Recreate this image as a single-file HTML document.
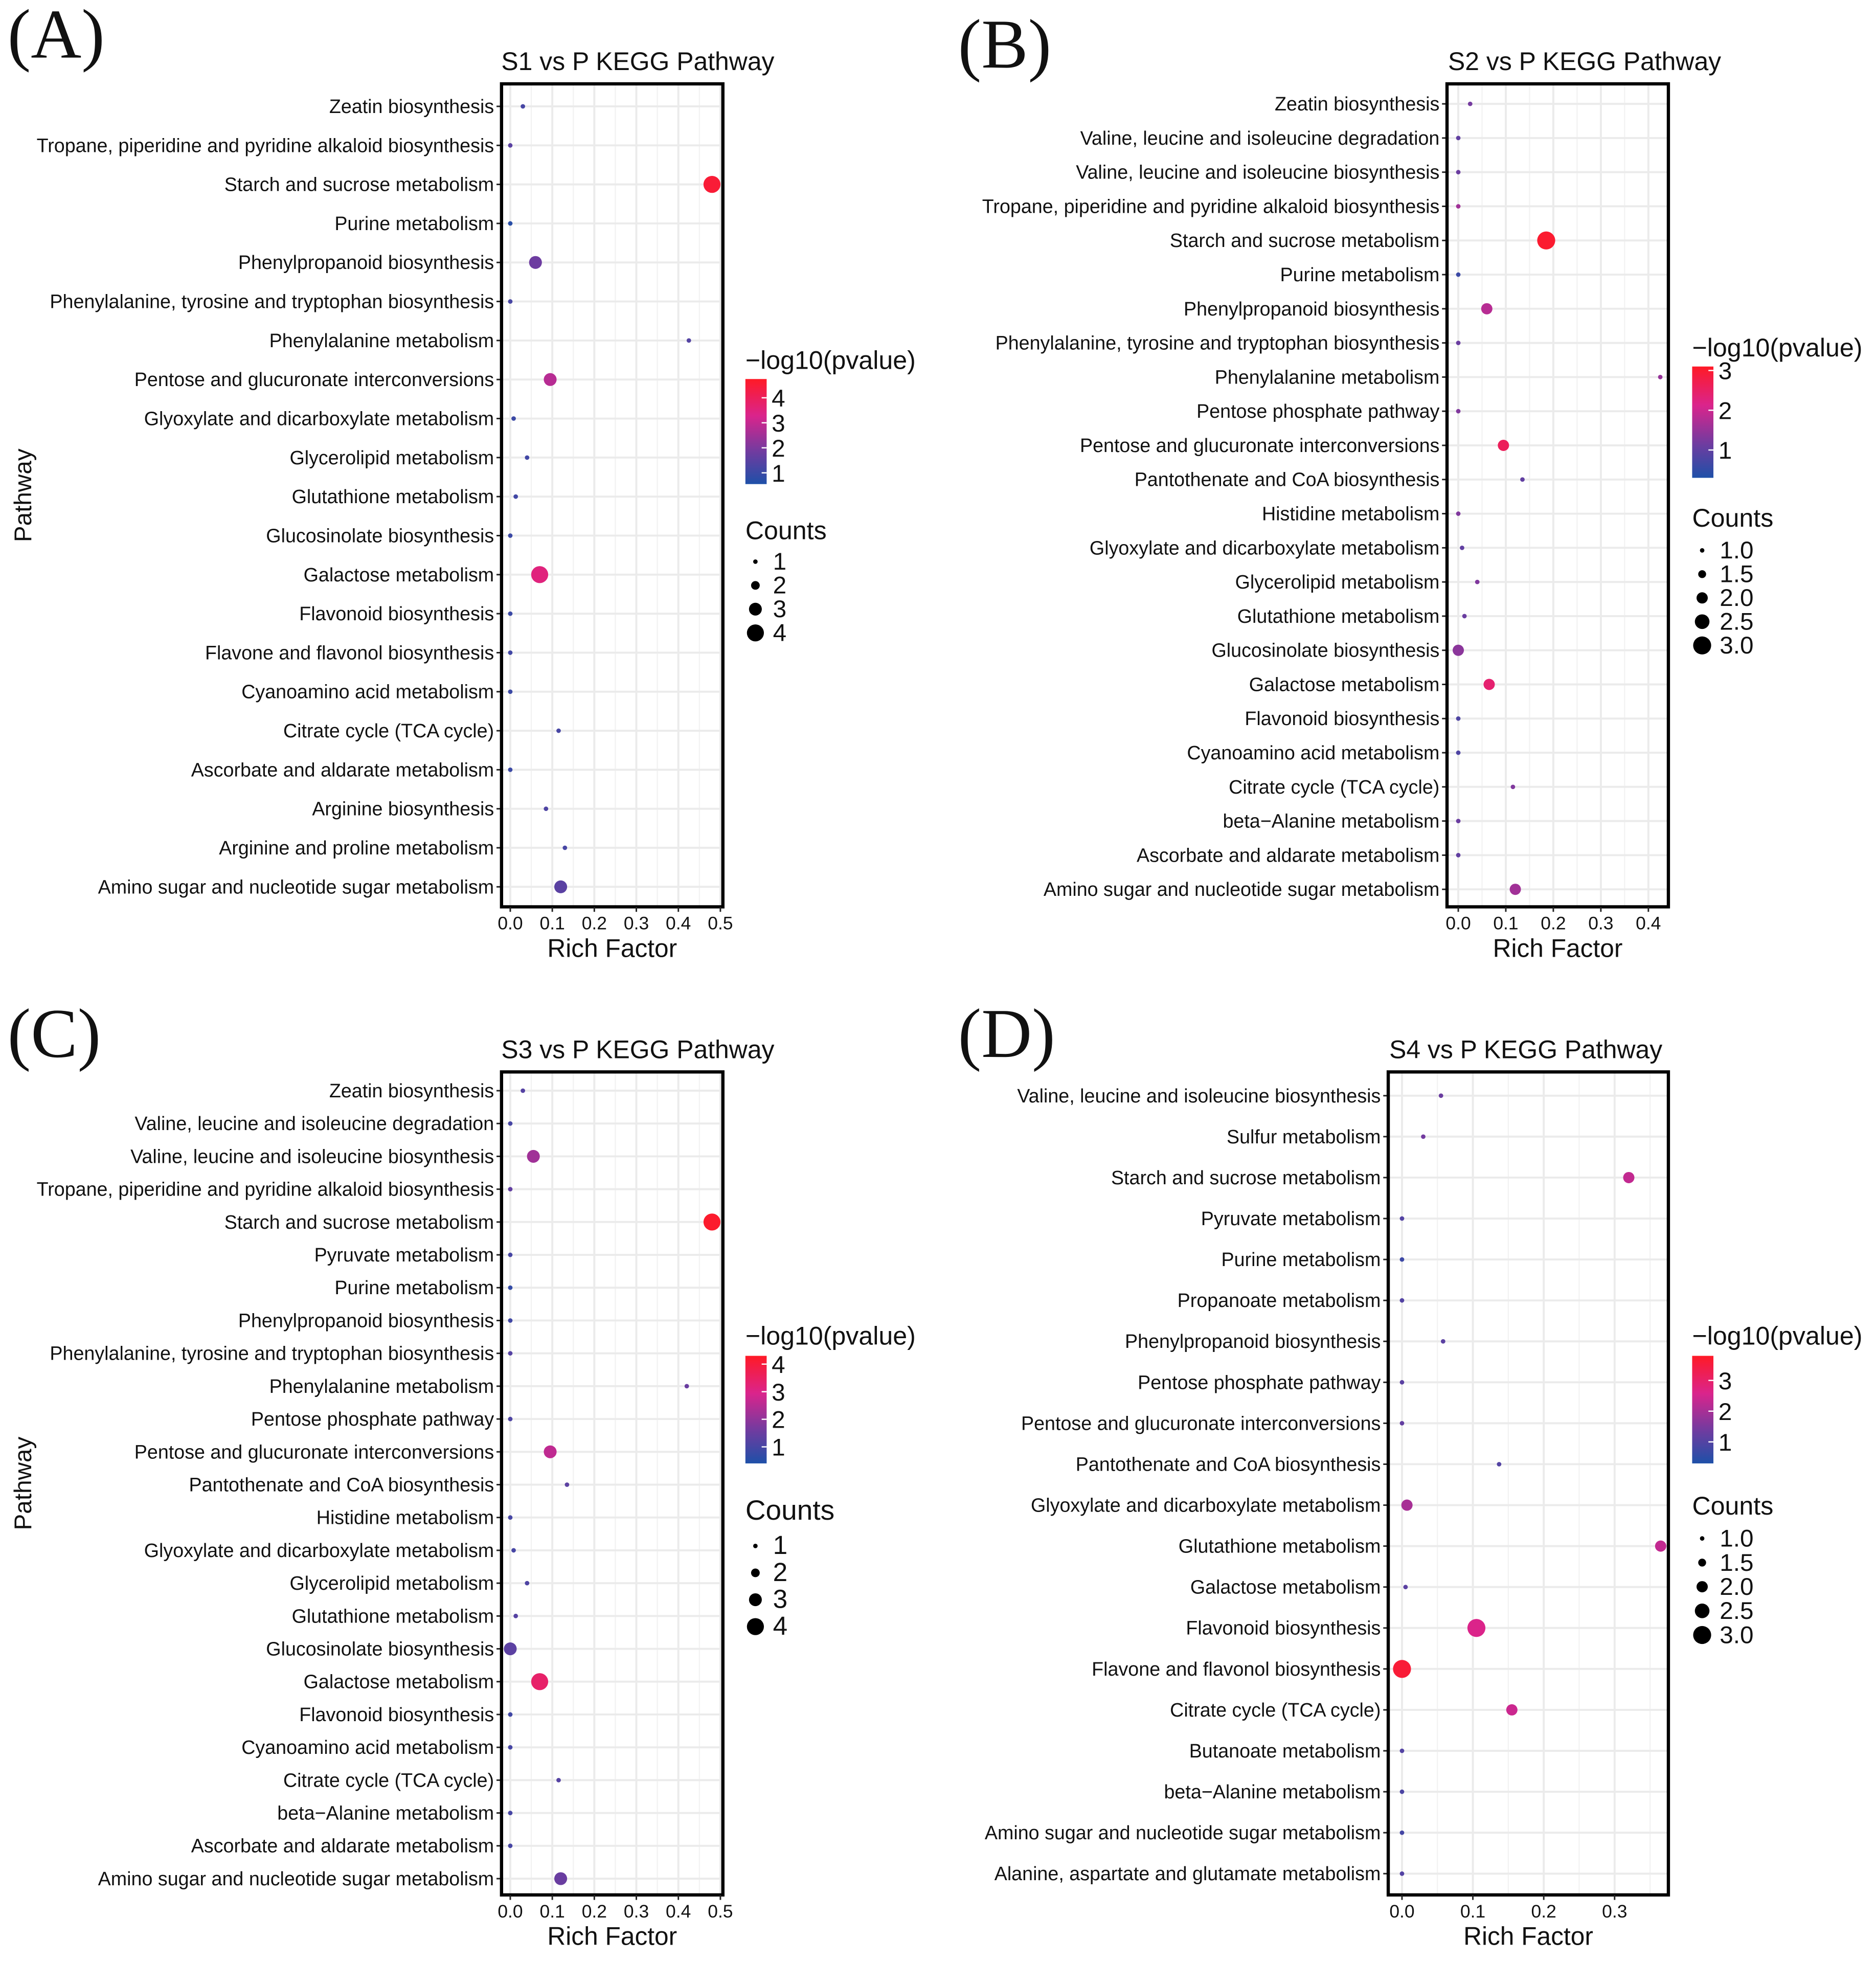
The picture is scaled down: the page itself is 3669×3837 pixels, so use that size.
<!DOCTYPE html>
<html><head><meta charset="utf-8"><style>
html,body{margin:0;padding:0;background:#fff}
svg{display:block}
text{font-family:"Liberation Sans",sans-serif;fill:#111}
</style></head><body>
<svg id="fig" width="3669" height="3837" viewBox="0 0 1500 1568.6" xmlns="http://www.w3.org/2000/svg">
<rect width="1500" height="1569" fill="#fff"/>
</svg>
<script>
// ---------- DATA ----------
const catsA = ["Zeatin biosynthesis","Tropane, piperidine and pyridine alkaloid biosynthesis","Starch and sucrose metabolism","Purine metabolism","Phenylpropanoid biosynthesis","Phenylalanine, tyrosine and tryptophan biosynthesis","Phenylalanine metabolism","Pentose and glucuronate interconversions","Glyoxylate and dicarboxylate metabolism","Glycerolipid metabolism","Glutathione metabolism","Glucosinolate biosynthesis","Galactose metabolism","Flavonoid biosynthesis","Flavone and flavonol biosynthesis","Cyanoamino acid metabolism","Citrate cycle (TCA cycle)","Ascorbate and aldarate metabolism","Arginine biosynthesis","Arginine and proline metabolism","Amino sugar and nucleotide sugar metabolism"];
const richA = [0.03,0.0,0.48,0.0,0.06,0.0,0.425,0.095,0.008,0.04,0.013,0.0,0.07,0.0,0.0,0.0,0.115,0.0,0.085,0.13,0.12];
const countA = [1,1,4,1,3,1,1,3,1,1,1,1,4,1,1,1,1,1,1,1,3];
const pvalA = [1.2,1.5,4.5,0.7,1.8,1.2,1.4,2.8,1.0,1.1,1.1,1.0,3.5,1.0,1.1,1.0,1.2,1.0,1.3,1.2,1.5];
const ticksA = [0,0.1,0.2,0.3,0.4,0.5];

const catsB = ["Zeatin biosynthesis","Valine, leucine and isoleucine degradation","Valine, leucine and isoleucine biosynthesis","Tropane, piperidine and pyridine alkaloid biosynthesis","Starch and sucrose metabolism","Purine metabolism","Phenylpropanoid biosynthesis","Phenylalanine, tyrosine and tryptophan biosynthesis","Phenylalanine metabolism","Pentose phosphate pathway","Pentose and glucuronate interconversions","Pantothenate and CoA biosynthesis","Histidine metabolism","Glyoxylate and dicarboxylate metabolism","Glycerolipid metabolism","Glutathione metabolism","Glucosinolate biosynthesis","Galactose metabolism","Flavonoid biosynthesis","Cyanoamino acid metabolism","Citrate cycle (TCA cycle)","beta\u2212Alanine metabolism","Ascorbate and aldarate metabolism","Amino sugar and nucleotide sugar metabolism"];
const richB = [0.025,0.0,0.0,0.0,0.185,0.0,0.06,0.0,0.425,0.0,0.095,0.135,0.0,0.008,0.04,0.013,0.0,0.065,0.0,0.0,0.115,0.0,0.0,0.12];
const countB = [1,1,1,1,3,1,2,1,1,1,2,1,1,1,1,1,2,2,1,1,1,1,1,2];
const pvalB = [1.2,1.0,1.1,1.6,3.0,0.6,1.8,1.1,1.5,1.3,2.6,1.0,1.3,1.0,1.3,1.1,1.4,2.4,0.8,0.8,1.3,1.1,1.0,1.6];
const ticksB = [0,0.1,0.2,0.3,0.4];

const catsC = ["Zeatin biosynthesis","Valine, leucine and isoleucine degradation","Valine, leucine and isoleucine biosynthesis","Tropane, piperidine and pyridine alkaloid biosynthesis","Starch and sucrose metabolism","Pyruvate metabolism","Purine metabolism","Phenylpropanoid biosynthesis","Phenylalanine, tyrosine and tryptophan biosynthesis","Phenylalanine metabolism","Pentose phosphate pathway","Pentose and glucuronate interconversions","Pantothenate and CoA biosynthesis","Histidine metabolism","Glyoxylate and dicarboxylate metabolism","Glycerolipid metabolism","Glutathione metabolism","Glucosinolate biosynthesis","Galactose metabolism","Flavonoid biosynthesis","Cyanoamino acid metabolism","Citrate cycle (TCA cycle)","beta\u2212Alanine metabolism","Ascorbate and aldarate metabolism","Amino sugar and nucleotide sugar metabolism"];
const richC = [0.03,0.0,0.055,0.0,0.48,0.0,0.0,0.0,0.0,0.42,0.0,0.095,0.135,0.0,0.008,0.04,0.013,0.0,0.07,0.0,0.0,0.115,0.0,0.0,0.12];
const countC = [1,1,3,1,4,1,1,1,1,1,1,3,1,1,1,1,1,3,4,1,1,1,1,1,3];
const pvalC = [1.2,1.0,2.2,1.4,4.2,1.0,0.7,0.9,1.2,1.5,1.1,2.6,1.3,1.0,1.0,1.1,1.2,1.3,3.4,0.9,1.0,1.2,1.0,1.0,1.5];
const ticksC = [0,0.1,0.2,0.3,0.4,0.5];

const catsD = ["Valine, leucine and isoleucine biosynthesis","Sulfur metabolism","Starch and sucrose metabolism","Pyruvate metabolism","Purine metabolism","Propanoate metabolism","Phenylpropanoid biosynthesis","Pentose phosphate pathway","Pentose and glucuronate interconversions","Pantothenate and CoA biosynthesis","Glyoxylate and dicarboxylate metabolism","Glutathione metabolism","Galactose metabolism","Flavonoid biosynthesis","Flavone and flavonol biosynthesis","Citrate cycle (TCA cycle)","Butanoate metabolism","beta\u2212Alanine metabolism","Amino sugar and nucleotide sugar metabolism","Alanine, aspartate and glutamate metabolism"];
const richD = [0.055,0.03,0.32,0.0,0.0,0.0,0.058,0.0,0.0,0.137,0.007,0.365,0.005,0.105,0.0,0.155,0.0,0.0,0.0,0.0];
const countD = [1,1,2,1,1,1,1,1,1,1,2,2,1,3,3,2,1,1,1,1];
const pvalD = [1.3,1.4,2.3,1.0,0.7,1.0,1.1,1.1,1.2,1.0,2.0,2.3,1.1,2.6,3.6,2.4,1.0,0.9,0.8,1.0];
const ticksD = [0,0.1,0.2,0.3];

// ---------- DRAW ----------
const NS = "http://www.w3.org/2000/svg";
const svg = document.getElementById('fig');
function mk(tag, attrs, parent, txt){
  const e = document.createElementNS(NS, tag);
  for (const k in attrs) e.setAttribute(k, attrs[k]);
  if (txt !== undefined) e.textContent = txt;
  (parent || svg).appendChild(e);
  return e;
}
const stops = [[0,[30,80,168]],[0.3,[110,60,160]],[0.65,[218,36,140]],[1,[255,26,38]]];
function colorAt(t){
  t = Math.max(0, Math.min(1, t));
  for (let i=1;i<stops.length;i++){
    if (t <= stops[i][0]){
      const a=stops[i-1], b=stops[i], f=(t-a[0])/(b[0]-a[0]);
      const c=a[1].map((v,j)=>Math.round(v+(b[1][j]-v)*f));
      return `rgb(${c[0]},${c[1]},${c[2]})`;
    }
  }
  return 'rgb(255,26,38)';
}

function panel(cfg){
  const g = mk('g', {});
  
  
  const {x0,x1,y0,y1,xs0,xs1,xmax,r0,rN} = cfg;
  const xScale = v => xs0 + (xs1 - xs0) * v / xmax;
  const n = cfg.cats.length;
  const yScale = i => r0 + (rN - r0) * i / (n - 1);
  const cScale = v => (v - cfg.cmin) / (cfg.cmax - cfg.cmin);
  const rScale = c => cfg.rmin + (cfg.rmax - cfg.rmin) * (c - cfg.cntMin) / (cfg.cntMax - cfg.cntMin);
  const step = cfg.ticks[1]-cfg.ticks[0];
  for (let i=0;i<cfg.ticks.length;i++){
    const t = cfg.ticks[i];
    const gl = mk('line', {x1:xScale(t), x2:xScale(t), y1:y0, y2:y1, stroke:'#ebebeb','stroke-width':1.6}, g);
    
    
    const mx = xScale(t + step/2);
    if (mx < x1){
      const ml = mk('line', {x1:mx, x2:mx, y1:y0, y2:y1, stroke:'#f2f2f2','stroke-width':0.9}, g);
      
      
    }
  }
  cfg.cats.forEach((c,i)=>{
    const y = yScale(i);
    const hl = mk('line', {x1:x0, x2:x1, y1:y, y2:y, stroke:'#ebebeb','stroke-width':1.6}, g);
    
    
    const tk = mk('line', {x1:x0-4, x2:x0, y1:y, y2:y, stroke:'#222','stroke-width':1.2}, g);
    
    
    const lb = mk('text', {x:x0-6, y:y+5.3, 'text-anchor':'end','font-size':15.4}, g, c);
    
    
  });
  cfg.cats.forEach((c,i)=>{
    const pt = mk('circle', {cx:xScale(cfg.rich[i]), cy:yScale(i), r:rScale(cfg.count[i]), fill:colorAt(cScale(cfg.pval[i]))}, g);
    
    
  });
  const fr = mk('rect', {x:x0, y:y0, width:x1-x0, height:y1-y0, fill:'none', stroke:'#000','stroke-width':2.6}, g);
  
  
  cfg.ticks.forEach(t=>{
    const tk = mk('line', {x1:xScale(t), x2:xScale(t), y1:y1, y2:y1+4, stroke:'#222','stroke-width':1.2}, g);
    
    
    const tl = mk('text', {x:xScale(t), y:y1+18, 'text-anchor':'middle','font-size':14.5}, g, t.toFixed(1));
    
    
  });
  const xt = mk('text', {x:(x0+x1)/2, y:y1+40, 'text-anchor':'middle','font-size':20.3}, g, 'Rich Factor');
  
  
  const tt = mk('text', {x:cfg.titleX, y:y0-11, 'text-anchor':'middle','font-size':20.4}, g, cfg.title);
  
  
  if (cfg.pathway){
    const yt = mk('text', {x:0, y:0, 'text-anchor':'middle','font-size':19.5, transform:`translate(25,${(y0+y1)/2}) rotate(-90)`}, g, 'Pathway');
    
    
  }
  const lt = mk('text', {x:cfg.lx, y:cfg.cbTitleY, 'font-size':20.5}, g, '\u2212log10(pvalue)');
  
  
  const gid = 'grad' + cfg.name;
  const defs = mk('defs', {}, g);
  const lg = mk('linearGradient', {id:gid, x1:0, y1:1, x2:0, y2:0}, defs);
  stops.forEach(s=>mk('stop', {offset:s[0], 'stop-color':`rgb(${s[1].join(',')})`}, lg));
  const cb = mk('rect', {x:cfg.lx, y:cfg.cbTop, width:17, height:cfg.cbBot-cfg.cbTop, fill:`url(#${gid})`}, g);
  
  
  const cbY = v => cfg.cbBot - (cfg.cbBot - cfg.cbTop) * cScale(v);
  cfg.cbTicks.forEach(v=>{
    const y = cbY(v);
    const l = mk('text', {x:cfg.lx+21, y:y+7, 'font-size':19.5}, g, String(v));
    
    
    const tm = mk('line', {x1:cfg.lx+13, x2:cfg.lx+17, y1:y, y2:y, stroke:'#fff','stroke-width':1}, g);
    
    
  });
  const ct = mk('text', {x:cfg.lx, y:cfg.cntTitleY, 'font-size':cfg.cntFont}, g, 'Counts');
  
  
  cfg.cntKeys.forEach((k,i)=>{
    const y = cfg.cntY0 + cfg.cntStep*i;
    const d = mk('circle', {cx:cfg.lx+8, cy:y, r:rScale(k), fill:'#000'}, g);
    
    
    const l = mk('text', {x:cfg.lx+22, y:y+6.5, 'font-size':cfg.cntLabFont}, g, cfg.cntFmt(k));
    
    
  });
}

panel({name:'panel-a', cats:catsA, rich:richA, count:countA, pval:pvalA, ticks:ticksA,
  x0:401,x1:578,y0:67,y1:725,xs0:408,xs1:576,xmax:0.5,r0:85,rN:709,
  cmin:0.55,cmax:4.75,cntMin:1,cntMax:4,rmin:1.8,rmax:6.8,
  title:'S1 vs P KEGG Pathway', titleX:510, pathway:true,
  lx:596, cbTitleY:295, cbTop:303, cbBot:387, cbTicks:[1,2,3,4],
  cntTitleY:431, cntFont:20.5, cntLabFont:19.5, cntY0:449, cntStep:19, cntKeys:[1,2,3,4], cntFmt:k=>String(k)});

panel({name:'panel-b', cats:catsB, rich:richB, count:countB, pval:pvalB, ticks:ticksB,
  x0:1157,x1:1334,y0:67,y1:725,xs0:1166,xs1:1318,xmax:0.4,r0:83,rN:711,
  cmin:0.3,cmax:3.1,cntMin:1,cntMax:3,rmin:1.8,rmax:7.2,
  title:'S2 vs P KEGG Pathway', titleX:1267, pathway:false,
  lx:1353, cbTitleY:285, cbTop:293, cbBot:382, cbTicks:[1,2,3],
  cntTitleY:421, cntFont:20.5, cntLabFont:19.5, cntY0:440, cntStep:19, cntKeys:[1,1.5,2,2.5,3], cntFmt:k=>k.toFixed(1)});

panel({name:'panel-c', cats:catsC, rich:richC, count:countC, pval:pvalC, ticks:ticksC,
  x0:401,x1:578,y0:857,y1:1515,xs0:408,xs1:576,xmax:0.5,r0:872,rN:1502,
  cmin:0.4,cmax:4.3,cntMin:1,cntMax:4,rmin:1.8,rmax:6.8,
  title:'S3 vs P KEGG Pathway', titleX:510, pathway:true,
  lx:596, cbTitleY:1075, cbTop:1084, cbBot:1170, cbTicks:[1,2,3,4],
  cntTitleY:1215, cntFont:22.5, cntLabFont:21, cntY0:1236, cntStep:21.5, cntKeys:[1,2,3,4], cntFmt:k=>String(k)});

panel({name:'panel-d', cats:catsD, rich:richD, count:countD, pval:pvalD, ticks:ticksD,
  x0:1110,x1:1334,y0:857,y1:1515,xs0:1121,xs1:1291,xmax:0.3,r0:876,rN:1498,
  cmin:0.3,cmax:3.8,cntMin:1,cntMax:3,rmin:1.8,rmax:7.2,
  title:'S4 vs P KEGG Pathway', titleX:1220, pathway:false,
  lx:1353, cbTitleY:1075, cbTop:1084, cbBot:1170, cbTicks:[1,2,3],
  cntTitleY:1211, cntFont:20.5, cntLabFont:19.5, cntY0:1230, cntStep:19.3, cntKeys:[1,1.5,2,2.5,3], cntFmt:k=>k.toFixed(1)});

[['(A)',6,46],['(B)',766,54],['(C)',6,845],['(D)',766,845]].forEach(p=>{
  const t = mk('text', {x:p[1], y:p[2], 'font-size':56, style:'font-family:"Liberation Serif",serif'}, svg, p[0]);
  
  
});
</script>
</body></html>
